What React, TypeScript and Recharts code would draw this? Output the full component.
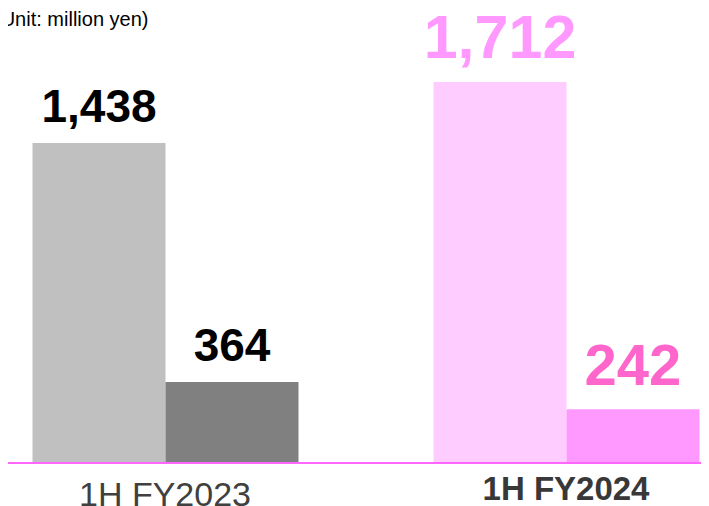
import React from "react";
import { BarChart, Bar, XAxis, YAxis, Cell, LabelList } from "recharts";

const categories = ["1H FY2023", "1H FY2024"];
const mainValues = [1438, 1712];
const subValues = [364, 242];

const mainColors = ["#c0c0c0", "#ffccff"];
const subColors = ["#808080", "#ff99ff"];
const mainLabelColors = ["#000000", "#ff99ff"];
const subLabelColors = ["#000000", "#ff66cc"];
const mainLabelSizes = [46, 61];
const subLabelSizes = [46, 58];

const data = categories.map((name, i) => ({
  name,
  main: mainValues[i],
  sub: subValues[i],
}));

const FONT = "'Liberation Sans', Arial, sans-serif";

const makeLabel =
  (values: number[], colors: string[], sizes: number[]) => (props: any) => {
    const { x, y, width, value } = props;
    let i = values.indexOf(Number(value));
    if (i < 0) i = props.index ?? 0;
    const gap = i === 1 ? 24.5 : 21.5;
    return (
      <text
        x={Number(x) + Number(width) / 2}
        y={Number(y) - gap}
        textAnchor="middle"
        fontFamily={FONT}
        fontWeight="bold"
        fontSize={sizes[i]}
        fill={colors[i]}
      >
        {Number(value).toLocaleString("en-US")}
      </text>
    );
  };

const CategoryTick = (props: any) => {
  const { x, y, payload } = props;
  const bold = categories.indexOf(payload.value) === 1;
  return (
    <text
      x={x}
      y={y + (bold ? 29 : 35)}
      textAnchor="middle"
      fontFamily={FONT}
      fontSize={bold ? 33 : 34}
      fontWeight={bold ? "bold" : "normal"}
      fill={bold ? "#383838" : "#404040"}
    >
      {payload.value}
    </text>
  );
};

export default function App() {
  return (
    <div style={{ position: "relative", width: 701, height: 498 }}>
      <div
        style={{
          position: "absolute",
          left: -14,
          top: 0,
          fontFamily: FONT,
          fontSize: 20,
          color: "#000",
          whiteSpace: "nowrap",
        }}
      >
        (Unit: million yen)
      </div>
      <BarChart
        width={701}
        height={498}
        data={data}
        margin={{ top: 10, right: 0, bottom: 0, left: 0 }}
        barGap={0}
        barSize={133}
      >
        <XAxis
          dataKey="name"
          height={43}
          padding={{ left: -43.5, right: -57.5 }}
          axisLine={{ stroke: "#ff66ff", strokeWidth: 2 }}
          tickLine={false}
          tick={<CategoryTick />}
          interval={0}
        />
        <YAxis hide domain={[0, 2000]} />
        <Bar dataKey="main" isAnimationActive={false}>
          {data.map((d, i) => (
            <Cell key={`m-${i}`} fill={mainColors[i]} />
          ))}
          <LabelList
            dataKey="main"
            content={makeLabel(mainValues, mainLabelColors, mainLabelSizes)}
          />
        </Bar>
        <Bar dataKey="sub" isAnimationActive={false}>
          {data.map((d, i) => (
            <Cell key={`s-${i}`} fill={subColors[i]} />
          ))}
          <LabelList
            dataKey="sub"
            content={makeLabel(subValues, subLabelColors, subLabelSizes)}
          />
        </Bar>
      </BarChart>
    </div>
  );
}
